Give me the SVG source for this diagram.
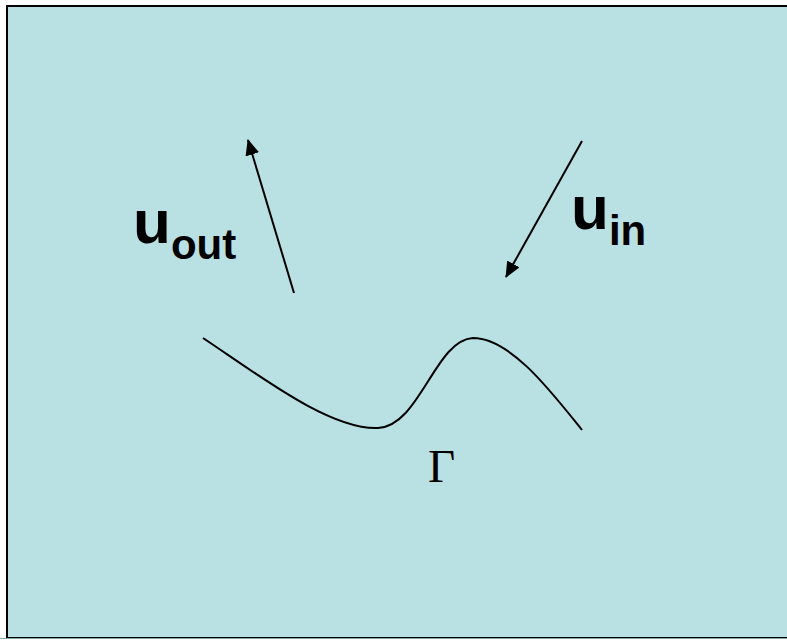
<svg xmlns="http://www.w3.org/2000/svg" width="787" height="640" viewBox="0 0 787 640">
<style>
.line{fill:none;stroke:#000;stroke-width:2}
.lbl{font-family:"Liberation Sans",Arial,sans-serif;font-weight:bold;fill:#000}
</style>
<defs>
<marker id="ahb" markerWidth="16" markerHeight="14" refX="15" refY="7" orient="auto" markerUnits="userSpaceOnUse" viewBox="0 0 16 14">
<path d="M0,0 L16,7 L0,14 z" fill="#000"/>
</marker>
</defs>
<rect x="0" y="0" width="787" height="640" fill="#fff"/>
<rect x="7" y="6" width="782" height="632" fill="#B9E0E3" stroke="#000" stroke-width="2"/>
<line x1="0" y1="638.5" x2="787" y2="638.5" stroke="#8aa8aa" stroke-width="1"/>
<g id="connectors">
<line id="u_out_arrow" class="line" x1="294" y1="293" x2="248" y2="140" marker-end="url(#ahb)"/>
<line id="u_in_arrow" class="line" x1="582" y1="141" x2="506" y2="277" marker-end="url(#ahb)"/>
</g>
<g id="boundary">
<path class="line" d="M203,338 C260,376 330,430 378,428 C420,426 435,340 473,338 C510,338 550,390 582,430"/>
<text x="428" y="482" font-family="'Liberation Serif','Times New Roman',serif" font-size="47" fill="#000">Γ</text>
</g>
<g id="u_out">
<text class="lbl" x="133" y="243" font-size="62">u<tspan font-size="42" dy="16">out</tspan></text>
</g>
<g id="u_in">
<text class="lbl" x="571" y="229" font-size="62">u<tspan font-size="42" dy="16">in</tspan></text>
</g>
</svg>
